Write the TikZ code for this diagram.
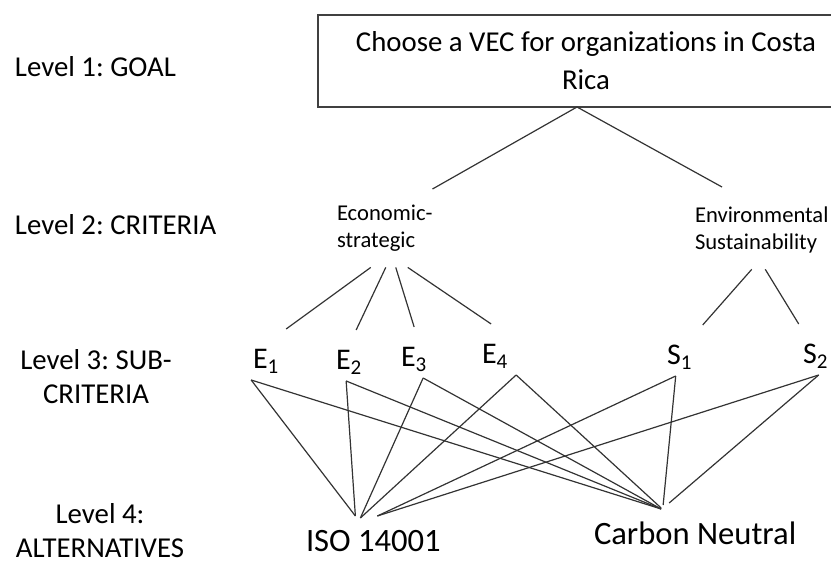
\documentclass[tikz,border=0pt]{standalone}
\usepackage{fontspec}
\setmainfont[Ligatures=NoCommon]{Carlito}
\frenchspacing
\usetikzlibrary{positioning}
\begin{document}
\begin{tikzpicture}[x=0.5pt,y=-0.5pt,
    every node/.style={inner sep=0,outer sep=0},
    level/.style={font=\fontsize{14.4}{17}\selectfont,align=center},
    crit/.style={font=\fontsize{11.3}{13.5}\selectfont,align=left,outer ysep=8pt,anchor=north west},
    sub/.style={font=\fontsize{15}{18}\selectfont,text height=20pt,text depth=5.5pt,anchor=base west},
    alt/.style={font=\fontsize{16.3}{20}\selectfont,text height=18pt,anchor=base west},
    link/.style={draw=black!80,line width=0.6pt}]
	\useasboundingbox (0,0) rectangle (831,565);
	% level labels
	\node[level,anchor=base west] (l1) at (15,77) {Level 1: GOAL};
	\node[level,anchor=base west] (l2) at (15,235) {Level 2: CRITERIA};
	\node[level,anchor=north] (l3) at (96,350) {Level 3: SUB-\\CRITERIA};
	\node[level,anchor=north] (l4) at (100,504) {Level 4:\\ALTERNATIVES};
	% hierarchy
	\node[draw=black!75,line width=0.6pt,minimum width=268pt,minimum height=46pt,align=center,
	      font=\fontsize{14.4}{19}\selectfont] (goal) at (586,61) {Choose a VEC for organizations in Costa\\Rica};
	\node[crit] (econ) at (337,189) {Economic-\\strategic};
	\node[crit] (env) at (695,191) {Environmental\\Sustainability};
	\node[sub] (e1) at (253,369) {E\textsubscript{1}};
	\node[sub] (e2) at (336,370) {E\textsubscript{2}};
	\node[sub] (e3) at (401,367) {E\textsubscript{3}};
	\node[sub] (e4) at (482,364) {E\textsubscript{4}};
	\node[sub] (s1) at (667,365) {S\textsubscript{1}};
	\node[sub] (s2) at (803,364) {S\textsubscript{2}};
	\node[alt] (iso) at (306,552) {ISO 14001};
	\node[alt] (cn) at (594,545) {Carbon Neutral};
    \path[link]
        ([xshift=-4.5pt]goal.south) edge (econ.north east)
        ([xshift=-4.5pt]goal.south) edge ([xshift=13.5pt,yshift=2pt]env.north west)
        ([xshift=-7pt]econ.south) edge ([xshift=10pt]e1.north)
        ([xshift=0.5pt]econ.south) edge ([xshift=3.5pt]e2.north)
        ([xshift=5.5pt]econ.south) edge (e3.north)
        ([xshift=11.5pt]econ.south) edge ([xshift=-2pt]e4.north)
        ([xshift=-5pt]env.south) edge ([xshift=11.5pt]s1.north)
        ([xshift=1.75pt]env.south) edge ([xshift=-8.5pt]s2.north);
    \path[link]
        ([xshift=-7.5pt]e1.south) edge ([xshift=-9pt]iso.north)
        ([xshift=-7.5pt]e1.south) edge ([xshift=-17pt]cn.north)
        ([xshift=-1.5pt]e2.south) edge ([xshift=-9pt]iso.north)
        ([xshift=-1.5pt]e2.south) edge ([xshift=-17pt]cn.north)
        ([xshift=4.5pt]e3.south) edge ([xshift=-6.5pt,yshift=-1pt]iso.north)
        ([xshift=4.5pt]e3.south) edge ([xshift=-17pt]cn.north)
        ([xshift=10.5pt]e4.south) edge ([xshift=-6.5pt,yshift=-1pt]iso.north)
        ([xshift=10.5pt]e4.south) edge ([xshift=-17pt,yshift=0.5pt]cn.north)
        ([xshift=-2pt]s1.south) edge ([xshift=2pt]iso.north)
        ([xshift=-2pt]s1.south) edge ([xshift=-16pt,yshift=2pt]cn.north)
        ([xshift=1.5pt]s2.south) edge ([xshift=2pt]iso.north)
        ([xshift=1.5pt]s2.south) edge ([xshift=-13pt,yshift=3pt]cn.north);
\end{tikzpicture}
\end{document}
